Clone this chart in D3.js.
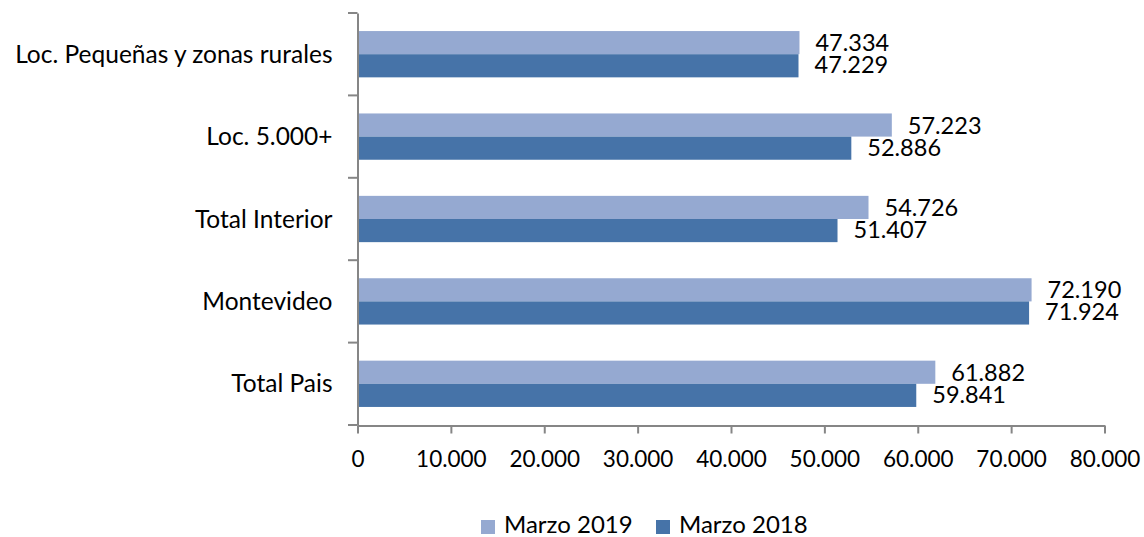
<!DOCTYPE html>
<html><head><meta charset="utf-8">
<script src="https://cdn.jsdelivr.net/npm/d3@7"></script>
<style>body{margin:0;background:#fff}svg{display:block}text{font-family:Lato,"Noto Sans",sans-serif;fill:#000}</style>
</head><body>
<script>
const categories = ["Loc. Pequeñas y zonas rurales","Loc. 5.000+","Total Interior","Montevideo","Total Pais"];
const seriesNames = ["Marzo 2019","Marzo 2018"];
const marzo2019 = [47334,57223,54726,72190,61882];
const marzo2018 = [47229,52886,51407,71924,59841];
const xTicks = [0,10000,20000,30000,40000,50000,60000,70000,80000];
const colors = ["#95A9D1","#4673A8"];

const W=1144,H=537;
const svg=d3.select("body").append("svg").attr("width",W).attr("height",H);
const x=d3.scaleLinear().domain([0,80000]).range([357.5,1104.5]);
const y=d3.scaleBand().domain(categories).range([13,425]).paddingInner(0).paddingOuter(0);
const inner=d3.scaleBand().domain(seriesNames).range([0,y.bandwidth()]).paddingOuter(0.78).paddingInner(0);
const fmt=v=>d3.format(",")(v).replace(/,/g,".");
const series=[marzo2019,marzo2018];

const axisColor="#868686";
series.forEach((vals,si)=>{
  svg.append("g").selectAll("rect").data(categories).join("rect")
    .attr("x",x(0)).attr("y",(c)=>y(c)+inner(seriesNames[si]))
    .attr("width",(c,i)=>x(vals[i])-x(0)).attr("height",inner.bandwidth())
    .attr("fill",colors[si]);
  svg.append("g").selectAll("text").data(categories).join("text")
    .attr("x",(c,i)=>x(vals[i])+16)
    .attr("y",(c)=>y(c)+inner(seriesNames[si])+inner.bandwidth()/2+(si===0?8.5:7.5))
    .attr("font-size",23.5).text((c,i)=>fmt(vals[i]));
});

const xa=svg.append("g").attr("transform","translate(0,425.5)")
  .call(d3.axisBottom(x).tickValues(xTicks).tickFormat(fmt).tickSize(8).tickSizeOuter(0).tickPadding(18));
xa.select(".domain").attr("stroke",axisColor).attr("stroke-width",2);
xa.selectAll(".tick line").attr("stroke",axisColor).attr("stroke-width",2);
xa.selectAll(".tick text").attr("font-size",22.5).attr("font-family","Lato").attr("fill","#000").attr("dy","0.71em");

const ya=svg.append("g").attr("transform","translate(357.5,0)")
  .call(d3.axisLeft(y).tickSize(0).tickPadding(25));
ya.select(".domain").attr("stroke",axisColor).attr("stroke-width",2);
ya.selectAll(".tick text").attr("font-size",24.5).attr("font-family","Lato").attr("fill","#000").attr("dy","0.35em");
const bounds=categories.map(c=>y(c)).concat([y.range()[1]]);
svg.append("g").selectAll("line").data(bounds).join("line")
  .attr("x1",348).attr("x2",357.5).attr("y1",d=>d).attr("y2",d=>d)
  .attr("stroke",axisColor).attr("stroke-width",2);

const legX=[481,656];
seriesNames.forEach((n,i)=>{
  svg.append("rect").attr("x",legX[i]).attr("y",520).attr("width",14).attr("height",14).attr("fill",colors[i]);
  svg.append("text").attr("x",legX[i]+23).attr("y",533).attr("font-size",24).text(n);
});
</script>
</body></html>
